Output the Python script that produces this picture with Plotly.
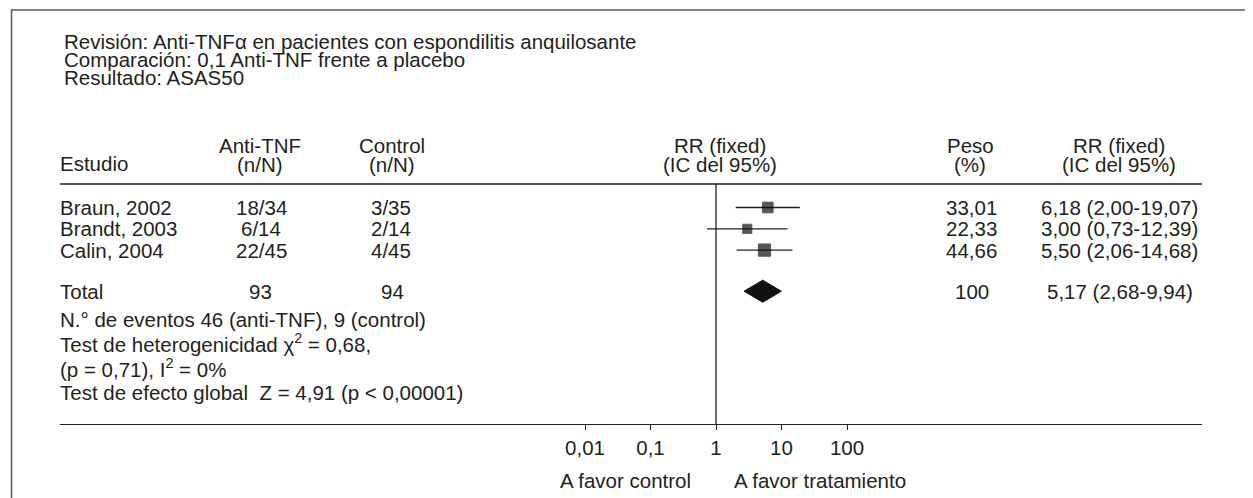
import plotly.graph_objects as go

# ---------------- data ----------------
studies = ["Braun, 2002", "Brandt, 2003", "Calin, 2004"]
treat_events = ["18/34", "6/14", "22/45"]
control_events = ["3/35", "2/14", "4/45"]
rr = [6.18, 3.00, 5.50]
ci_low = [2.00, 0.73, 2.06]
ci_high = [19.07, 12.39, 14.68]
weights = [33.01, 22.33, 44.66]
weight_labels = ["33,01", "22,33", "44,66"]
rr_labels = ["6,18 (2,00-19,07)", "3,00 (0,73-12,39)", "5,50 (2,06-14,68)"]

total_treat = "93"
total_control = "94"
total_rr = 5.17
total_low = 2.68
total_high = 9.94
total_weight = "100"
total_label = "5,17 (2,68-9,94)"

tick_vals = [0.01, 0.1, 1, 10, 100]
tick_text = ["0,01", "0,1", "1", "10", "100"]

title_lines = [
    "Revisión: Anti-TNFα en pacientes con espondilitis anquilosante",
    "Comparación: 0,1 Anti-TNF frente a placebo",
    "Resultado: ASAS50",
]
footer_lines = [
    "N.° de eventos 46 (anti-TNF), 9 (control)",
    "Test de heterogenicidad χ<sup>2</sup> = 0,68,",
    "(p = 0,71), I<sup>2</sup> = 0%",
    "Test de efecto global  Z = 4,91 (p < 0,00001)",
]

# ---------------- layout helpers ----------------
W, H = 1253, 498
OFF = 8  # page body margin
INK = "#231f20"
FONT = "Liberation Sans, Arial, sans-serif"
FS = 20.5


def px(x):
    return (x - OFF) / W


def py(y):
    return 1 - (y - OFF) / H


row_top, row_step = 207.5, 21.3
axis_bottom_px = 424
dom_top_px = OFF
header_line_px = 184
x_left_px, x_right_px = 60, 1202
one_px, decade_px = 716, 65.5

rows = list(range(len(studies)))
total_row = len(studies) + 0.93

y_range = [(axis_bottom_px - row_top) / row_step, (dom_top_px - row_top) / row_step]
x_range = [(x_left_px - one_px) / decade_px, (x_right_px - one_px) / decade_px]

fig = go.Figure()

# confidence intervals
for i in rows:
    fig.add_trace(go.Scatter(
        x=[ci_low[i], ci_high[i]], y=[i, i], mode="lines",
        line=dict(color=INK, width=1.3), hoverinfo="skip", showlegend=False))

# point estimates
fig.add_trace(go.Scatter(
    x=rr, y=rows, mode="markers",
    marker=dict(symbol="square", color="#111111", size=[6 + 0.14 * w for w in weights],
                line=dict(width=1, color="#111111")),
    showlegend=False))

# pooled diamond
dh = 0.52
fig.add_trace(go.Scatter(
    x=[total_low, total_rr, total_high, total_rr, total_low],
    y=[total_row, total_row - dh, total_row, total_row + dh, total_row],
    mode="lines", fill="toself", fillcolor="#111111",
    line=dict(color="#111111", width=1), showlegend=False))

ann = []


def text(x, y, s, xanchor="left", yref="paper", size=FS):
    ann.append(dict(x=x, y=y, xref="paper", yref=yref, text=s, showarrow=False,
                    xanchor=xanchor, yanchor="middle", borderpad=0,
                    font=dict(family=FONT, size=size, color=INK)))


# title
for k, line in enumerate(title_lines):
    text(px(63), py(41 + 18.5 * k), line)

# headers
text(px(59), py(163), "Estudio")
text(px(260), py(145), "Anti-TNF", "center")
text(px(260), py(164), "(n/N)", "center")
text(px(392), py(145), "Control", "center")
text(px(392), py(164), "(n/N)", "center")
text(px(720), py(145), "RR (fixed)", "center")
text(px(720), py(164), "(IC del 95%)", "center")
text(px(970), py(145), "Peso", "center")
text(px(970), py(164), "(%)", "center")
text(px(1119), py(145), "RR (fixed)", "center")
text(px(1119), py(164), "(IC del 95%)", "center")

# study rows
for i in rows:
    text(px(59), i, studies[i], yref="y")
    text(px(261), i, treat_events[i], "center", yref="y")
    text(px(391), i, control_events[i], "center", yref="y")
    text(px(971), i, weight_labels[i], "center", yref="y")
    text(px(1119), i, rr_labels[i], "center", yref="y")

# total row
text(px(59), total_row, "Total", yref="y")
text(px(260), total_row, total_treat, "center", yref="y")
text(px(392), total_row, total_control, "center", yref="y")
text(px(972), total_row, total_weight, "center", yref="y")
text(px(1120), total_row, total_label, "center", yref="y")

# footer
for k, (line, yy) in enumerate(zip(footer_lines, [319, 343, 368, 392])):
    text(px(59), py(yy), line)

# favour labels
text(px(625), py(480), "A favor control", "center")
text(px(820), py(480), "A favor tratamiento", "center")

shapes = [
    # outer frame
    dict(type="rect", xref="paper", yref="paper", x0=px(11.5), x1=px(1300),
         y0=py(560), y1=py(10), line=dict(color="#58595b", width=1.5)),
    # header rule
    dict(type="line", xref="paper", yref="paper", x0=px(x_left_px), x1=px(x_right_px),
         y0=py(header_line_px), y1=py(header_line_px), line=dict(color=INK, width=1.3)),
    # line of no effect
    dict(type="line", xref="x", yref="paper", x0=1, x1=1,
         y0=py(axis_bottom_px), y1=py(header_line_px), line=dict(color=INK, width=1.3)),
]

fig.update_layout(
    width=W, height=H, autosize=False,
    margin=dict(l=0, r=0, t=0, b=0),
    paper_bgcolor="white", plot_bgcolor="white",
    showlegend=False,
    annotations=ann, shapes=shapes,
    xaxis=dict(type="log", domain=[px(x_left_px), px(x_right_px)], range=x_range,
               showgrid=False, zeroline=False, showline=True, linecolor=INK, linewidth=1.3,
               ticks="outside", ticklen=5, tickwidth=1.2, tickcolor=INK,
               tickvals=tick_vals, ticktext=tick_text,
               tickfont=dict(family=FONT, size=FS, color=INK), fixedrange=True),
    yaxis=dict(domain=[py(axis_bottom_px), py(dom_top_px)], range=y_range, visible=False,
               fixedrange=True),
)

fig.write_html("out.html")
